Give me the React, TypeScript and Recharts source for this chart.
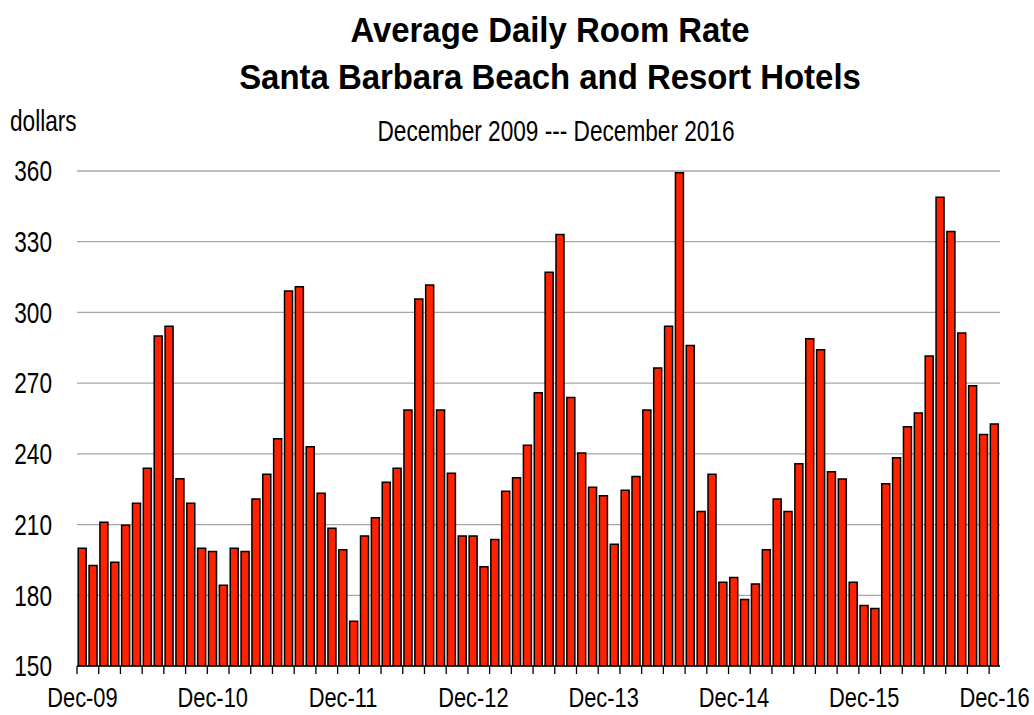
import { BarChart, Bar, XAxis, YAxis, CartesianGrid } from "recharts";

const months = [
  "Dec-09", "Jan-10", "Feb-10", "Mar-10", "Apr-10", "May-10", "Jun-10", "Jul-10", "Aug-10", "Sep-10", "Oct-10", "Nov-10",
  "Dec-10", "Jan-11", "Feb-11", "Mar-11", "Apr-11", "May-11", "Jun-11", "Jul-11", "Aug-11", "Sep-11", "Oct-11", "Nov-11",
  "Dec-11", "Jan-12", "Feb-12", "Mar-12", "Apr-12", "May-12", "Jun-12", "Jul-12", "Aug-12", "Sep-12", "Oct-12", "Nov-12",
  "Dec-12", "Jan-13", "Feb-13", "Mar-13", "Apr-13", "May-13", "Jun-13", "Jul-13", "Aug-13", "Sep-13", "Oct-13", "Nov-13",
  "Dec-13", "Jan-14", "Feb-14", "Mar-14", "Apr-14", "May-14", "Jun-14", "Jul-14", "Aug-14", "Sep-14", "Oct-14", "Nov-14",
  "Dec-14", "Jan-15", "Feb-15", "Mar-15", "Apr-15", "May-15", "Jun-15", "Jul-15", "Aug-15", "Sep-15", "Oct-15", "Nov-15",
  "Dec-15", "Jan-16", "Feb-16", "Mar-16", "Apr-16", "May-16", "Jun-16", "Jul-16", "Aug-16", "Sep-16", "Oct-16", "Nov-16",
  "Dec-16",
];

const rates = [
  200, 192.6, 211, 194, 209.7, 219, 233.9, 290, 294.1, 229.4, 219, 200,
  198.6, 184.3, 200, 198.6, 220.8, 231.3, 246.4, 309.1, 310.9, 243, 223.3, 208.4,
  199.3, 169, 205.1, 212.9, 228, 233.9, 258.6, 305.7, 311.6, 258.6, 231.8, 205.1,
  205.1, 192.1, 203.7, 224.1, 229.9, 243.7, 265.9, 317, 333.1, 263.9, 240.4, 225.8,
  222.2, 201.7, 224.6, 230.4, 258.6, 276.4, 294.1, 359.3, 286, 215.5, 231.3, 185.5,
  187.5, 178.2, 184.8, 199.3, 220.8, 215.5, 235.8, 288.8, 284.2, 232.4, 229.3, 185.5,
  175.7, 174.4, 227.3, 238.4, 251.5, 257.3, 281.5, 348.9, 334.3, 291.3, 268.9, 248.2,
  252.7,
];

const yTicks = [150, 180, 210, 240, 270, 300, 330, 360];

const data = months.map((m, i) => ({ month: m, rate: rates[i] }));

const FONT = "'Liberation Sans', Arial, sans-serif";
// the source uses a narrow face, so the plain one is squeezed sideways
const NARROW = 0.78;

function MonthTick(props: any) {
  const { x, y, payload, index } = props;
  const half = payload?.offset ?? 5.43;
  return (
    <g>
      {index % 2 === 0 && (
        <line x1={x - half} x2={x - half} y1={y} y2={y + 8} stroke="#000" strokeWidth={1.3} />
      )}
      {index % 12 === 0 && (
        <text
          transform={`translate(${x},${y + 41}) scale(${NARROW},1)`}
          textAnchor="middle"
          fontSize={28}
          fontFamily={FONT}
          fill="#000"
        >
          {payload.value}
        </text>
      )}
    </g>
  );
}

function RateTick(props: any) {
  const { x, y, payload } = props;
  return (
    <text
      transform={`translate(${x},${y}) scale(${NARROW},1)`}
      dy="0.355em"
      textAnchor="end"
      fontSize={29}
      fontFamily={FONT}
      fill="#000"
    >
      {payload.value}
    </text>
  );
}

export default function App() {
  const titleStyle = {
    position: "absolute" as const,
    left: 0,
    width: 1100,
    textAlign: "center" as const,
    fontSize: 35,
    fontWeight: "bold" as const,
    lineHeight: "35px",
    transform: "scaleX(0.94)",
    whiteSpace: "nowrap" as const,
  };
  return (
    <div style={{ position: "absolute", left: 0, top: 0, width: 1034, height: 715, background: "#fff", fontFamily: FONT }}>
      <div style={{ ...titleStyle, top: 12 }}>Average Daily Room Rate</div>
      <div style={{ ...titleStyle, top: 59 }}>Santa Barbara Beach and Resort Hotels</div>
      <div
        style={{
          position: "absolute",
          left: 0,
          width: 1112,
          top: 117,
          textAlign: "center",
          fontSize: 29,
          lineHeight: "29px",
          transform: `scaleX(${NARROW})`,
          whiteSpace: "nowrap",
        }}
      >
        December 2009 --- December 2016
      </div>
      <div
        style={{
          position: "absolute",
          left: 10,
          top: 107,
          fontSize: 29,
          lineHeight: "29px",
          transform: `scaleX(${NARROW})`,
          transformOrigin: "left center",
        }}
      >
        dollars
      </div>
      <BarChart
        width={1034}
        height={715}
        data={data}
        margin={{ top: 171, right: 34, bottom: 0, left: 0 }}
        barCategoryGap="11%"
      >
        <CartesianGrid vertical={false} stroke="#a6a6a6" strokeWidth={1.3} />
        <XAxis
          dataKey="month"
          interval={0}
          height={49}
          tickLine={false}
          tickSize={0}
          tickMargin={0}
          axisLine={{ stroke: "#000", strokeWidth: 1.5 }}
          tick={<MonthTick />}
        />
        <YAxis
          width={77}
          domain={[150, 360]}
          ticks={yTicks}
          allowDataOverflow
          axisLine={false}
          tickLine={false}
          tickSize={0}
          tickMargin={25}
          tick={<RateTick />}
        />
        <Bar dataKey="rate" fill="#ff2200" stroke="#000" strokeWidth={1.5} isAnimationActive={false} />
      </BarChart>
    </div>
  );
}
